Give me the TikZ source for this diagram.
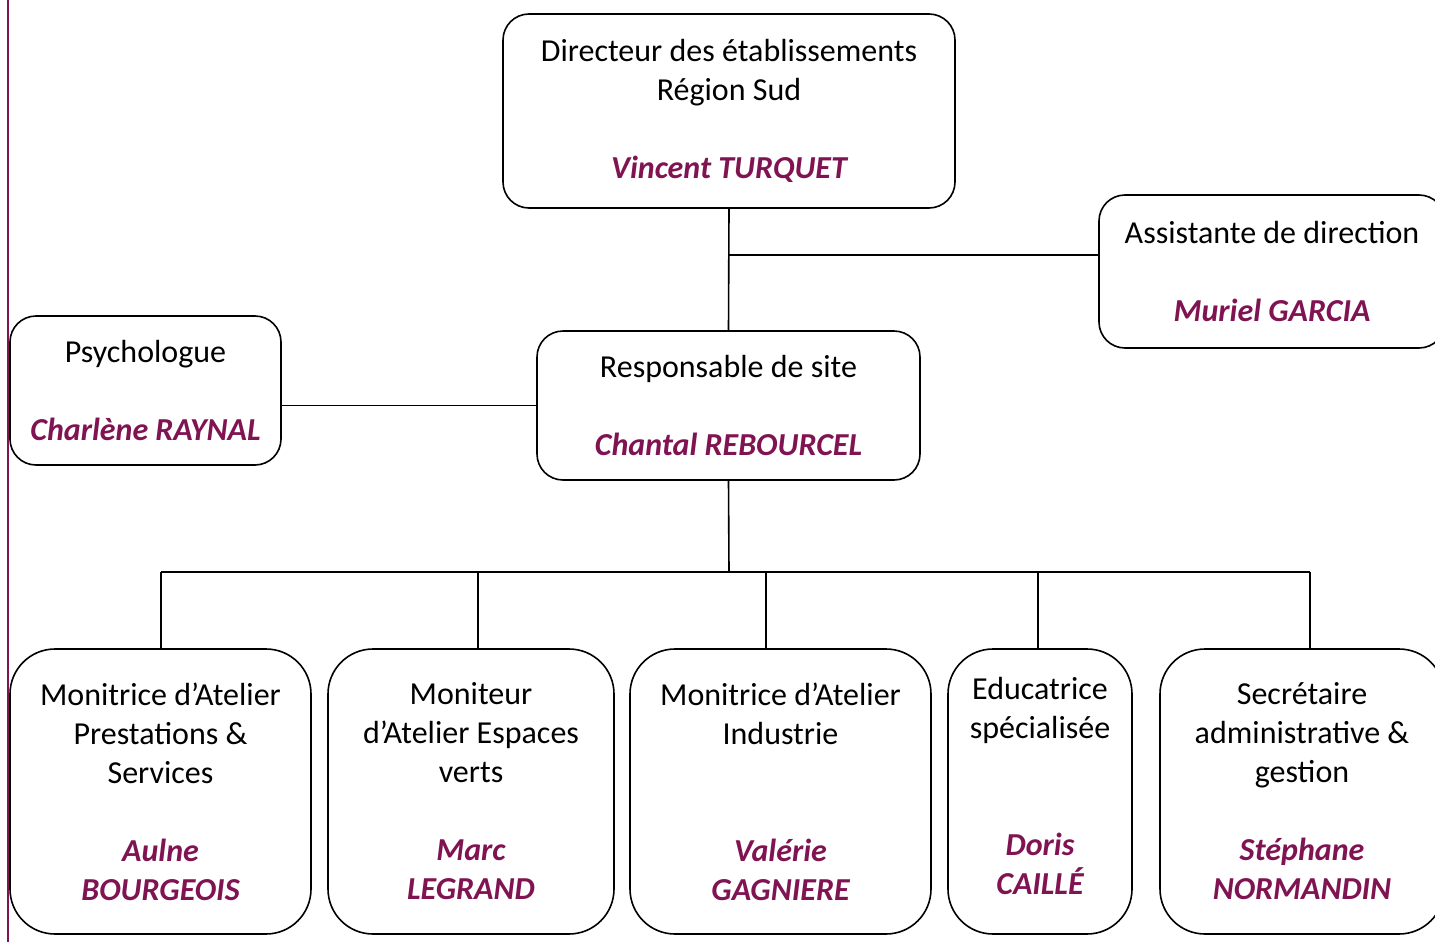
\documentclass[tikz,border=0pt]{standalone}
\usepackage{fontspec}
\setmainfont{Carlito}
\definecolor{nm}{RGB}{128,20,82}
\newcommand{\nm}[1]{{\color{nm}\bfseries\itshape #1}}
\begin{document}
\begin{tikzpicture}[x=1pt,y=-1pt,
  txt/.style={align=center, inner sep=0pt, font=\fontsize{32}{39}\selectfont},
  box/.style={draw, line width=1.6pt, txt},
  topbox/.style={box, rounded corners=26pt},
  botbox/.style={box, rounded corners=45pt, minimum height=285pt},
  conn/.style={line width=1.6pt}]
\useasboundingbox (0,0) rectangle (1435,942);
\clip (0,0) rectangle (1435,942);
\fill[white] (0,0) rectangle (1435,942);
\draw[nm, line width=2pt] (8,0) -- (8,942);

\node[topbox, minimum width=452pt, minimum height=194pt] (dir) at (729,111)
  {Directeur des établissements\\Région Sud\\[39pt]\nm{Vincent TURQUET}};
\node[topbox, minimum width=346pt, minimum height=153pt] (as) at (1272,271.5)
  {Assistante de direction\\[39pt]\nm{Muriel GARCIA}};
\node[topbox, minimum width=271pt, minimum height=149pt] (psy) at (145.5,390.5)
  {Psychologue\\[39pt]\nm{Charlène RAYNAL}};
\node[topbox, minimum width=383pt, minimum height=149pt] (resp) at (728.5,405.5)
  {Responsable de site\\[39pt]\nm{Chantal REBOURCEL}};

\node[botbox, minimum width=301pt] (a) at (160.5,791.5)
  {Monitrice d’Atelier\\Prestations \&\\Services\\[39pt]\nm{Aulne}\\\nm{BOURGEOIS}};
\node[botbox, minimum width=286pt] (b) at (471,791.5)
  {Moniteur\\d’Atelier Espaces\\verts\\[39pt]\nm{Marc}\\\nm{LEGRAND}};
\node[botbox, minimum width=301pt] (c) at (780.5,791.5)
  {Monitrice d’Atelier\\Industrie\\[78pt]\nm{Valérie}\\\nm{GAGNIERE}};
\node[botbox, minimum width=184pt] (d) at (1040,791.5) {};
\node[txt] (dt) at (1040,786)
  {Educatrice\\spécialisée\\[78pt]\nm{Doris}\\\nm{CAILLÉ}};
\node[botbox, minimum width=284pt] (e) at (1302,791.5)
  {Secrétaire\\administrative \&\\gestion\\[39pt]\nm{Stéphane}\\\nm{NORMANDIN}};

\coordinate (jas) at (729,255);
\coordinate (bus) at (729,572);
\coordinate (ja) at (161,572);
\coordinate (jb) at (478,572);
\coordinate (jc) at (766,572);
\coordinate (jd) at (1038,572);
\coordinate (je) at (1310,572);

\draw[conn] (dir.south) -- (resp.north);
\draw[conn] (jas) -- (jas -| as.west);
\draw[conn] (resp.west) -- (resp.west -| psy.east);
\draw[conn] (resp.south) -- (bus);
\draw[conn] (ja) -- (je);
\draw[conn] (ja) -- (ja |- a.north);
\draw[conn] (jb) -- (jb |- b.north);
\draw[conn] (jc) -- (jc |- c.north);
\draw[conn] (jd) -- (jd |- d.north);
\draw[conn] (je) -- (je |- e.north);
\end{tikzpicture}
\end{document}
